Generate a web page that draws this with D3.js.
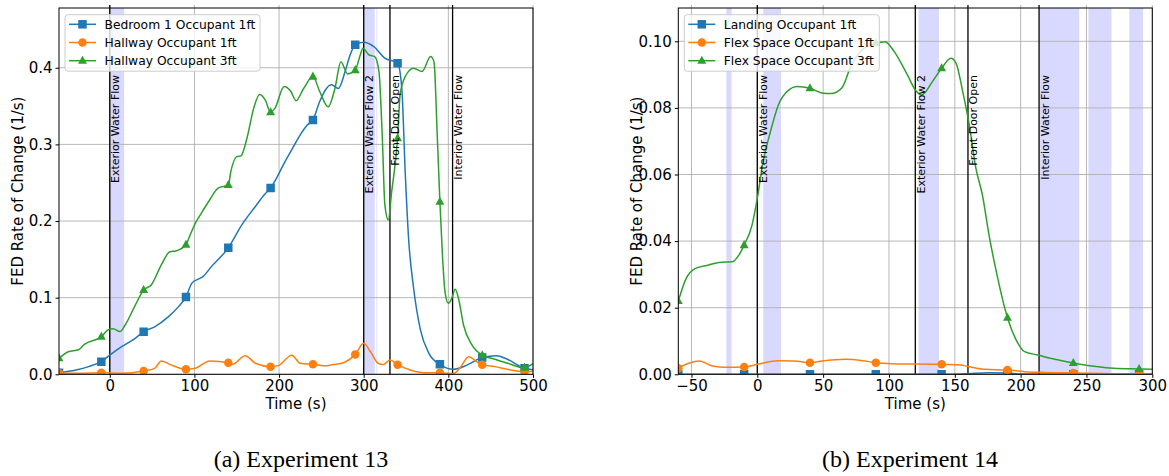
<!DOCTYPE html>
<html><head><meta charset="utf-8">
<script src="https://cdn.jsdelivr.net/npm/d3@7"></script>
<style>
body{margin:0;background:#fff}
svg{display:block}
text{font-family:"DejaVu Sans",sans-serif;fill:#000}
</style>
</head><body>
<svg id="c" width="1169" height="476"></svg>
<script>
// ---------------- Panel (a) Experiment 13 ----------------
const xTicksA = [0, 100, 200, 300, 400, 500];
const yTicksA = [0.0, 0.1, 0.2, 0.3, 0.4];
const markTimesA = [-60, -10, 40, 90, 140, 190, 240, 290, 340, 390, 440, 490];
const namesA = ["Bedroom 1 Occupant 1ft", "Hallway Occupant 1ft", "Hallway Occupant 3ft"];

const bedroomT = [-60,-40,-25,-10,0,14,30,40,53,69,81,90,97,105,110,120,140,156,172,183,190,197,207,217,225,233,240,248,256,262,270,278,284,290,300,312,325,340,345,349,353,359,367,377,390,406,422,440,457,469,490,500];
const bedroomV = [0.002,0.0056,0.010,0.0165,0.025,0.036,0.047,0.0556,0.062,0.075,0.088,0.101,0.119,0.1245,0.1275,0.1405,0.165,0.195,0.219,0.235,0.243,0.256,0.2775,0.297,0.3124,0.325,0.332,0.356,0.373,0.3777,0.373,0.395,0.417,0.430,0.4334,0.4277,0.4125,0.406,0.373,0.2645,0.1775,0.112,0.058,0.0274,0.013,0.0065,0.012,0.022,0.0243,0.020,0.0078,0.006];

const hall1T = [-60,-30,-10,14,40,53,61,71,90,101,118,140,145,160,172,190,199,215,225,240,256,262,274,290,300,308,317,323,331,340,355,371,390,406,414,424,434,440,455,470,490,500];
const hall1V = [0.0013,0.0015,0.002,0.0013,0.0043,0.0078,0.0174,0.013,0.0065,0.0078,0.0174,0.015,0.013,0.0243,0.0144,0.0099,0.0113,0.025,0.0144,0.013,0.011,0.0125,0.0144,0.026,0.0405,0.0295,0.0144,0.0126,0.0187,0.0126,0.0056,0.002,0.002,0.001,0.0087,0.023,0.016,0.0126,0.010,0.0065,0.0034,0.004];

const hall3T = [-60,-49,-37,-30,-10,-2,4,12,18,30,40,49,61,71,78,90,95,101,108,118,128,140,143,150,155,162,170,177,184,190,195,206,214,220,229,240,248,258,266,273,281,290,296,299,306,313,318,322,325,329,333,340,343,349,359,369,379,383,387,390,393,396,400,404,408,412,418,428,440,454,470,490,500];
const hall3V = [0.021,0.0295,0.032,0.039,0.049,0.058,0.0596,0.0557,0.064,0.090,0.110,0.1166,0.143,0.160,0.161,0.169,0.182,0.197,0.210,0.2275,0.243,0.247,0.2645,0.284,0.285,0.308,0.347,0.365,0.357,0.342,0.347,0.3755,0.369,0.357,0.373,0.3885,0.369,0.349,0.373,0.408,0.392,0.397,0.417,0.4256,0.417,0.4146,0.395,0.308,0.221,0.2014,0.238,0.308,0.365,0.3885,0.3995,0.395,0.4146,0.408,0.308,0.2253,0.156,0.108,0.0927,0.099,0.111,0.099,0.064,0.038,0.025,0.020,0.0144,0.0085,0.014];

const bandsA = [[0, 17], [300, 313], [315, 316]];
const eventTimesA = [0, 300, 331, 405];
const eventLabelsA = ["Exterior Water Flow", "Exterior Water Flow 2", "Front Door Open", "Interior Water Flow"];

// ---------------- Panel (b) Experiment 14 ----------------
const xTicksB = [-50, 0, 50, 100, 150, 200, 250, 300];
const yTicksB = [0.00, 0.02, 0.04, 0.06, 0.08, 0.10];
const markTimesB = [-60, -10, 40, 90, 140, 190, 240, 290];
const namesB = ["Landing Occupant 1ft", "Flex Space Occupant 1ft", "Flex Space Occupant 3ft"];

const landingT = [-60,-10,40,90,140,160,175,190,200,240,290,300];
const landingV = [0,0,0,0,0,0.0002,0.0005,0.0004,0.0001,0,0,0];

const flex1T = [-60,-52,-44,-34,-24,-10,0,16,28,40,49,67,80,90,102,120,140,152,161,173,190,203,216,240,270,290,300];
const flex1V = [0.0018,0.0033,0.0040,0.0025,0.0021,0.0022,0.0030,0.0041,0.0040,0.0035,0.0040,0.0045,0.0041,0.0035,0.0032,0.0031,0.0030,0.0029,0.0023,0.0015,0.0013,0.0008,0.0006,0.0004,0.0002,0.0001,0.0001];

const flex3T = [-60,-54,-47,-37,-29,-19,-14,-10,-4,0,4,10,16,24,30,40,50,56,64,71,81,90,97,104,114,120,125,133,140,147,151,156,161,166,171,176,181,190,196,203,213,226,240,254,271,290,300];
const flex3V = [0.022,0.0288,0.0318,0.0328,0.0336,0.0338,0.0358,0.0388,0.0448,0.0528,0.0629,0.0729,0.0809,0.0854,0.0864,0.0859,0.0844,0.0843,0.0859,0.0924,0.0979,0.0994,0.0999,0.0969,0.0899,0.0854,0.0839,0.0879,0.0919,0.0949,0.0934,0.0849,0.0749,0.0619,0.0538,0.0418,0.0318,0.017,0.0108,0.0068,0.0058,0.0045,0.0034,0.0025,0.0018,0.0016,0.0015];

const bandsB = [[-23.5, -19.5], [4.5, 18], [122.5, 138], [214.5, 244.5], [251.5, 269], [282.5, 293]];
const eventTimesB = [0, 120, 160, 214];
const eventLabelsB = ["Exterior Water Flow", "Exterior Water Flow 2", "Front Door Open", "Interior Water Flow"];

const colors = ["#1f77b4", "#ff7f0e", "#2ca02c"];
const markerTypes = ["square", "circle", "triangle"];
const captions = ["(a) Experiment 13", "(b) Experiment 14"];

// ---------------- drawing ----------------
const svg = d3.select("#c");

function markerPath(type, s) {
  const r = s / 2;
  if (type === "square") return `M${-r},${-r}h${s}v${s}h${-s}Z`;
  if (type === "circle") return `M${r},0A${r},${r} 0 1,1 ${-r},0A${r},${r} 0 1,1 ${r},0Z`;
  const h = s * 0.95;
  return `M0,${-h*0.62}L${r*1.05},${h*0.38}L${-r*1.05},${h*0.38}Z`;
}

function drawPanel(cfg, idx) {
  const {left, top, width, height, xDomain, yDomain, xTicks, yTicks, yFmt, series, names, markTimes, bands, eventTimes, eventLabels, caption, capX} = cfg;
  const x = d3.scaleLinear().domain(xDomain).range([left, left + width]);
  const y = d3.scaleLinear().domain(yDomain).range([top + height, top]);
  const g = svg.append("g");
  const clipId = "clip" + idx;
  g.append("clipPath").attr("id", clipId).append("rect")
    .attr("x", left).attr("y", top).attr("width", width).attr("height", height);

  // bands
  g.append("g").attr("clip-path", `url(#${clipId})`).selectAll("rect").data(bands).join("rect")
    .attr("x", d => x(d[0])).attr("width", d => x(d[1]) - x(d[0]))
    .attr("y", top).attr("height", height)
    .attr("fill", "rgb(0,0,255)").attr("fill-opacity", 0.15);

  // grid
  const grid = g.append("g").attr("stroke", "#b0b0b0").attr("stroke-width", 0.9);
  grid.selectAll("line.gx").data(xTicks).join("line").attr("class", "gx")
    .attr("x1", d => x(d)).attr("x2", d => x(d)).attr("y1", top - 3).attr("y2", top + height);
  grid.selectAll("line.gy").data(yTicks).join("line").attr("class", "gy")
    .attr("y1", d => y(d)).attr("y2", d => y(d)).attr("x1", left).attr("x2", left + width);

  // event lines
  g.append("g").selectAll("line").data(eventTimes).join("line")
    .attr("x1", d => x(d)).attr("x2", d => x(d)).attr("y1", top - 3).attr("y2", top + height)
    .attr("stroke", "#000").attr("stroke-width", 1.3);

  // series
  const line = d3.line().x(d => x(d[0])).y(d => y(d[1])).curve(d3.curveMonotoneX);
  const sg = g.append("g").attr("clip-path", `url(#${clipId})`);
  series.forEach((s, i) => {
    const pts = s.t.map((t, k) => [t, s.v[k]]);
    sg.append("path").attr("d", line(pts)).attr("fill", "none")
      .attr("stroke", colors[i]).attr("stroke-width", 1.5);
    const mk = markTimes.map(t => pts.find(p => p[0] === t)).filter(Boolean);
    sg.selectAll(null).data(mk).join("path")
      .attr("transform", d => `translate(${x(d[0])},${y(d[1])})`)
      .attr("d", markerPath(markerTypes[i], 8.5)).attr("fill", colors[i]);
  });

  // event labels
  g.append("g").selectAll("text").data(eventTimes).join("text")
    .attr("transform", d => `translate(${x(d) + 9.5},75) rotate(-90)`)
    .attr("text-anchor", "end").style("font-size", "11px")
    .text((d, i) => eventLabels[i]);

  // spines
  g.append("rect").attr("x", left).attr("y", top).attr("width", width).attr("height", height)
    .attr("fill", "none").attr("stroke", "#000").attr("stroke-width", 1);

  // axes
  const ax = g.append("g").attr("transform", `translate(0,${top + height})`)
    .call(d3.axisBottom(x).tickValues(xTicks).tickFormat(d3.format("d")).tickSize(3.5).tickPadding(3));
  const ay = g.append("g").attr("transform", `translate(${left},0)`)
    .call(d3.axisLeft(y).tickValues(yTicks).tickFormat(d3.format(yFmt)).tickSize(3.5).tickPadding(3));
  [ax, ay].forEach(a => {
    a.select(".domain").remove();
    a.selectAll("line").attr("stroke", "#000").attr("stroke-width", 1);
    a.selectAll("text").style("font-size", "15px").style("font-family", "DejaVu Sans");
  });

  // axis labels
  g.append("text").attr("x", left + width / 2).attr("y", 409).attr("text-anchor", "middle")
    .style("font-size", "15px").text("Time (s)");
  g.append("text").attr("transform", `translate(${left - 36},${top + height / 2}) rotate(-90)`)
    .attr("text-anchor", "middle").style("font-size", "15px").text("FED Rate of Change (1/s)");

  // legend
  const lg = g.append("g").attr("transform", `translate(${left + 6},${top + 6.7})`);
  lg.append("rect").attr("width", 195).attr("height", 56.5).attr("rx", 3)
    .attr("fill", "#fff").attr("fill-opacity", 0.8).attr("stroke", "#cccccc").attr("stroke-width", 1);
  names.forEach((n, i) => {
    const yy = 9.6 + i * 18.2;
    lg.append("line").attr("x1", 4).attr("x2", 31).attr("y1", yy).attr("y2", yy)
      .attr("stroke", colors[i]).attr("stroke-width", 1.5);
    lg.append("path").attr("transform", `translate(17.5,${yy})`)
      .attr("d", markerPath(markerTypes[i], 8.5)).attr("fill", colors[i]);
    lg.append("text").attr("x", 39.5).attr("y", yy + 4.5).style("font-size", "12.3px").text(n);
  });

  // caption
  svg.append("text").attr("x", capX).attr("y", 467).attr("text-anchor", "middle")
    .style("font-family", "'Liberation Serif', serif").style("font-size", "24px").text(caption);
}

drawPanel({
  left: 59, top: 8, width: 474, height: 366.3,
  xDomain: [-60, 500], yDomain: [0, 0.478],
  xTicks: xTicksA, yTicks: yTicksA, yFmt: ".1f",
  series: [{t: bedroomT, v: bedroomV}, {t: hall1T, v: hall1V}, {t: hall3T, v: hall3V}],
  names: namesA, markTimes: markTimesA, bands: bandsA,
  eventTimes: eventTimesA, eventLabels: eventLabelsA,
  caption: captions[0], capX: 301
}, 0);

drawPanel({
  left: 678.3, top: 8, width: 474, height: 366.3,
  xDomain: [-60, 300], yDomain: [0, 0.110],
  xTicks: xTicksB, yTicks: yTicksB, yFmt: ".2f",
  series: [{t: landingT, v: landingV}, {t: flex1T, v: flex1V}, {t: flex3T, v: flex3V}],
  names: namesB, markTimes: markTimesB, bands: bandsB,
  eventTimes: eventTimesB, eventLabels: eventLabelsB,
  caption: captions[1], capX: 910
}, 1);
</script>
</body></html>
